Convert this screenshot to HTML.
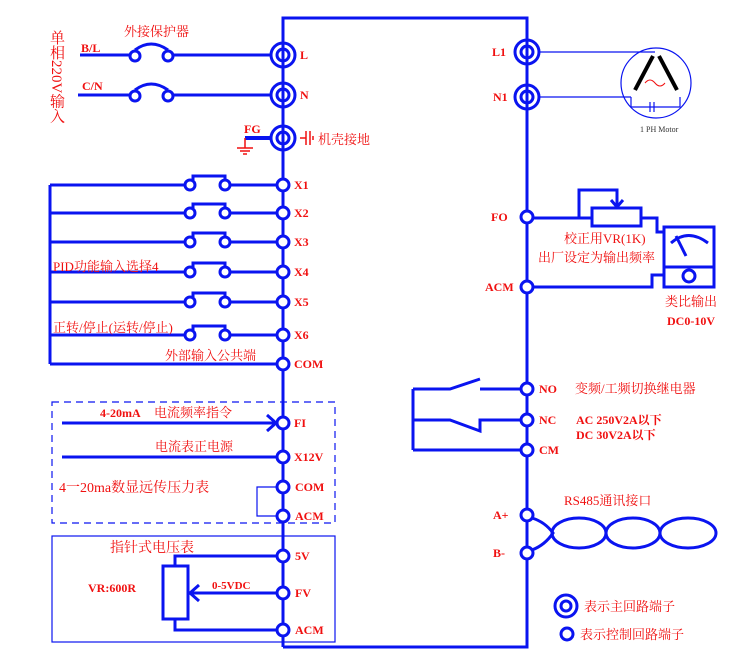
<!DOCTYPE html>
<html><head><meta charset="utf-8"><style>
html,body{margin:0;padding:0;background:#fff;}
svg text{font-family:"Liberation Serif","Noto Serif CJK SC","Noto Sans CJK SC",serif;fill:#f01010;}
</style></head><body>
<svg width="750" height="663" viewBox="0 0 750 663" xmlns="http://www.w3.org/2000/svg">
<g stroke="#0a14f0" fill="none" stroke-width="3">
<polyline points="283,647 283,18 527,18 527,647 283,647"/>
<line x1="80" y1="55" x2="131" y2="55"/><line x1="173" y1="55" x2="271" y2="55"/>
<circle cx="135" cy="56" r="5"/><circle cx="168" cy="56" r="5"/>
<path d="M135,50 Q151,38 168,50"/>
<line x1="78" y1="95" x2="131" y2="95"/><line x1="173" y1="95" x2="271" y2="95"/>
<circle cx="135" cy="96" r="5"/><circle cx="168" cy="96" r="5"/>
<path d="M135,90 Q151,78 168,90"/>
<circle cx="283" cy="55" r="12"/><circle cx="283" cy="55" r="6"/>
<circle cx="283" cy="95" r="12"/><circle cx="283" cy="95" r="6"/>
<circle cx="283" cy="138" r="12"/><circle cx="283" cy="138" r="6"/>
<line x1="245" y1="138" x2="271" y2="138" stroke-width="4"/>
<line x1="50" y1="185" x2="50" y2="364"/>
<line x1="50" y1="185" x2="185" y2="185"/><line x1="230" y1="185" x2="277" y2="185"/><circle cx="190" cy="185" r="5"/><circle cx="225" cy="185" r="5"/><polyline points="193,180 193,176 225,176 225,180"/>
<line x1="50" y1="213" x2="185" y2="213"/><line x1="230" y1="213" x2="277" y2="213"/><circle cx="190" cy="213" r="5"/><circle cx="225" cy="213" r="5"/><polyline points="193,208 193,204 225,204 225,208"/>
<line x1="50" y1="242" x2="185" y2="242"/><line x1="230" y1="242" x2="277" y2="242"/><circle cx="190" cy="242" r="5"/><circle cx="225" cy="242" r="5"/><polyline points="193,237 193,233 225,233 225,237"/>
<line x1="50" y1="272" x2="185" y2="272"/><line x1="230" y1="272" x2="277" y2="272"/><circle cx="190" cy="272" r="5"/><circle cx="225" cy="272" r="5"/><polyline points="193,267 193,263 225,263 225,267"/>
<line x1="50" y1="302" x2="185" y2="302"/><line x1="230" y1="302" x2="277" y2="302"/><circle cx="190" cy="302" r="5"/><circle cx="225" cy="302" r="5"/><polyline points="193,297 193,293 225,293 225,297"/>
<line x1="50" y1="335" x2="185" y2="335"/><line x1="230" y1="335" x2="277" y2="335"/><circle cx="190" cy="335" r="5"/><circle cx="225" cy="335" r="5"/><polyline points="193,330 193,326 225,326 225,330"/>
<line x1="50" y1="364" x2="277" y2="364"/>
<circle cx="283" cy="185" r="6" fill="#fff"/><circle cx="283" cy="213" r="6" fill="#fff"/><circle cx="283" cy="242" r="6" fill="#fff"/><circle cx="283" cy="272" r="6" fill="#fff"/><circle cx="283" cy="302" r="6" fill="#fff"/><circle cx="283" cy="335" r="6" fill="#fff"/><circle cx="283" cy="364" r="6" fill="#fff"/>
<circle cx="283" cy="423" r="6" fill="#fff"/><circle cx="283" cy="457" r="6" fill="#fff"/><circle cx="283" cy="487" r="6" fill="#fff"/><circle cx="283" cy="516" r="6" fill="#fff"/>
<circle cx="283" cy="556" r="6" fill="#fff"/><circle cx="283" cy="593" r="6" fill="#fff"/><circle cx="283" cy="630" r="6" fill="#fff"/>
<line x1="62" y1="423" x2="275" y2="423"/><polyline points="267,415 276,423 267,431"/>
<line x1="62" y1="457" x2="277" y2="457"/>
<polyline points="277,487 257,487 257,516 277,516" stroke-width="1.2"/>
<polyline points="277,556 175,556 175,566"/>
<rect x="163" y="566" width="25" height="53"/>
<polyline points="277,630 175,630 175,619"/>
<line x1="190" y1="593" x2="277" y2="593"/><polyline points="199,585 190,593 199,601"/>
<circle cx="527" cy="52" r="12"/><circle cx="527" cy="52" r="6"/>
<circle cx="527" cy="97" r="12"/><circle cx="527" cy="97" r="6"/>
<circle cx="527" cy="217" r="6" fill="#fff"/><circle cx="527" cy="287" r="6" fill="#fff"/>
<circle cx="527" cy="389" r="6" fill="#fff"/><circle cx="527" cy="420" r="6" fill="#fff"/><circle cx="527" cy="450" r="6" fill="#fff"/>
<circle cx="527" cy="515" r="6" fill="#fff"/><circle cx="527" cy="553" r="6" fill="#fff"/>
<line x1="533" y1="218" x2="592" y2="218"/>
<rect x="592" y="208" width="49" height="18"/>
<polyline points="579,218 579,190 617,190 617,206"/><polyline points="611,200 617,207 623,200"/>
<polyline points="641,218 657,218 657,232 664,232"/>
<rect x="664" y="227" width="50" height="60"/><line x1="664" y1="267" x2="714" y2="267"/>
<circle cx="689" cy="276" r="6"/>
<path d="M671,243 Q688,228 708,243"/><line x1="676" y1="236" x2="686" y2="256"/>
<polyline points="533,287 652,287 652,275 664,275"/>
<line x1="480" y1="389" x2="521" y2="389"/><polyline points="413,389 450,389 480,379"/>
<line x1="413" y1="389" x2="413" y2="450"/>
<polyline points="413,420 450,420 480,431 480,420 521,420"/>
<line x1="413" y1="450" x2="521" y2="450"/>
<path d="M532,518 Q545,522 553,533 Q545,545 532,550"/>
<ellipse cx="579" cy="533" rx="27" ry="15"/><ellipse cx="633" cy="533" rx="27" ry="15"/><ellipse cx="688" cy="533" rx="28" ry="15"/>
<circle cx="566" cy="606" r="11"/><circle cx="566" cy="606" r="5"/>
<circle cx="567" cy="634" r="6"/>
</g>
<g stroke="#0a14f0" fill="none" stroke-width="1.2">
<rect x="52" y="402" width="283" height="121" stroke-dasharray="7,5"/>
<rect x="52" y="536" width="283" height="106"/>
<line x1="539" y1="52" x2="655" y2="52"/>
<line x1="539" y1="97" x2="631" y2="97"/>
<circle cx="656" cy="83" r="35"/>
<polyline points="631,97 631,107 680,107 680,97"/>
<line x1="650" y1="102" x2="650" y2="112"/><line x1="654" y1="102" x2="654" y2="112"/>
<line x1="653" y1="56" x2="635" y2="90" stroke="#000" stroke-width="4"/>
<line x1="659" y1="56" x2="677" y2="90" stroke="#000" stroke-width="4"/>
</g>
<path d="M645,83 Q650,77 655,83 Q660,89 665,83" stroke="#f01010" fill="none" stroke-width="1"/>
<g stroke="#f01010" stroke-width="1.5" fill="none">
<line x1="245" y1="138" x2="245" y2="148"/>
<line x1="237" y1="148" x2="253" y2="148"/><line x1="240" y1="151" x2="250" y2="151"/><line x1="243" y1="154" x2="247" y2="154"/>
<line x1="300" y1="138" x2="306" y2="138"/><line x1="306" y1="131" x2="306" y2="145"/><line x1="310" y1="131" x2="310" y2="145"/><line x1="313" y1="136" x2="313" y2="140"/>
</g>
<g font-size="12" font-weight="bold">
<text x="81" y="52">B/L</text><text x="82" y="90">C/N</text>
<text x="244" y="133">FG</text>
<text x="300" y="59">L</text><text x="300" y="99">N</text>
<text x="294" y="189">X1</text><text x="294" y="217">X2</text><text x="294" y="246">X3</text><text x="294" y="276">X4</text><text x="294" y="306">X5</text><text x="294" y="339">X6</text><text x="294" y="368">COM</text>
<text x="294" y="427">FI</text><text x="294" y="461">X12V</text><text x="295" y="491">COM</text><text x="295" y="520">ACM</text>
<text x="295" y="560">5V</text><text x="295" y="597">FV</text><text x="295" y="634">ACM</text>
<text x="492" y="56">L1</text><text x="493" y="101">N1</text><text x="491" y="221">FO</text><text x="485" y="291">ACM</text>
<text x="539" y="393">NO</text><text x="539" y="424">NC</text><text x="539" y="454">CM</text>
<text x="493" y="519">A+</text><text x="493" y="557">B-</text>
<text x="576" y="424">AC 250V2A以下</text><text x="576" y="439">DC 30V2A以下</text>
<text x="100" y="417">4-20mA</text>
<text x="88" y="592">VR:600R</text>
<text x="212" y="589" font-size="11">0-5VDC</text>
<text x="667" y="325">DC0-10V</text>
</g>
<g font-size="13">
<text x="124" y="36">外接保护器</text>
<text x="318" y="144">机壳接地</text>
<text x="53" y="271">PID功能输入选择4</text>
<text x="53" y="332">正转/停止(运转/停止)</text>
<text x="165" y="360">外部输入公共端</text>
<text x="154" y="417">电流频率指令</text>
<text x="155" y="451">电流表正电源</text>
<text x="59" y="492" font-size="14">4一20ma数显远传压力表</text>
<text x="110" y="552" font-size="14">指针式电压表</text>
<text x="564" y="243">校正用VR(1K)</text>
<text x="538" y="262">出厂设定为输出频率</text>
<text x="665" y="306">类比输出</text>
<text x="575" y="393">变频/工频切换继电器</text>
<text x="564" y="505">RS485通讯接口</text>
<text x="584" y="611">表示主回路端子</text>
<text x="580" y="639">表示控制回路端子</text>
</g>
<text x="640" y="132" font-size="8" style="fill:#333">1 PH Motor</text>
<text x="56" y="30" font-size="15" style="writing-mode:vertical-rl">单相220V输入</text>
</svg>
</body></html>
